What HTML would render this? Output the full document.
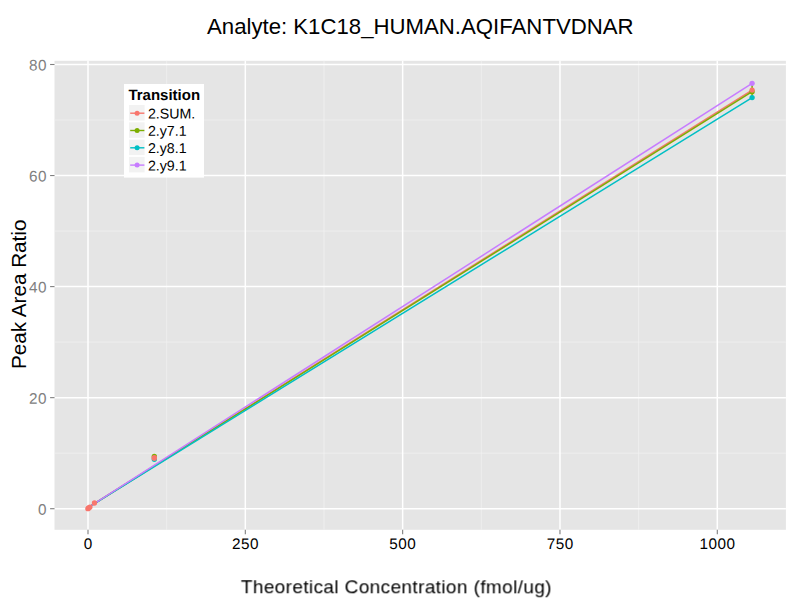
<!DOCTYPE html>
<html><head><meta charset="utf-8"><title>Analyte: K1C18_HUMAN.AQIFANTVDNAR</title>
<style>html,body{margin:0;padding:0;background:#fff;}body{width:800px;height:600px;overflow:hidden;font-family:"Liberation Sans",sans-serif;}svg{display:block;}text{font-family:"Liberation Sans",sans-serif;}</style></head><body>
<svg width="800" height="600" viewBox="0 0 800 600">
<rect x="0" y="0" width="800" height="600" fill="#ffffff"/>
<rect x="54.5" y="60.8" width="731.40" height="469.00" fill="#e5e5e5"/>
<g stroke="#f2f2f2" stroke-width="0.7" fill="none">
<line x1="54.5" x2="785.9" y1="453.17" y2="453.17"/>
<line x1="54.5" x2="785.9" y1="342.12" y2="342.12"/>
<line x1="54.5" x2="785.9" y1="231.07" y2="231.07"/>
<line x1="54.5" x2="785.9" y1="120.02" y2="120.02"/>
<line y1="60.8" y2="529.8" x1="166.66" x2="166.66"/>
<line y1="60.8" y2="529.8" x1="323.99" x2="323.99"/>
<line y1="60.8" y2="529.8" x1="481.31" x2="481.31"/>
<line y1="60.8" y2="529.8" x1="638.64" x2="638.64"/>
</g>
<g stroke="#ffffff" stroke-width="1.5" fill="none">
<line x1="54.5" x2="785.9" y1="508.70" y2="508.70"/>
<line x1="54.5" x2="785.9" y1="397.65" y2="397.65"/>
<line x1="54.5" x2="785.9" y1="286.60" y2="286.60"/>
<line x1="54.5" x2="785.9" y1="175.55" y2="175.55"/>
<line x1="54.5" x2="785.9" y1="64.50" y2="64.50"/>
<line y1="60.8" y2="529.8" x1="88.00" x2="88.00"/>
<line y1="60.8" y2="529.8" x1="245.32" x2="245.32"/>
<line y1="60.8" y2="529.8" x1="402.65" x2="402.65"/>
<line y1="60.8" y2="529.8" x1="559.97" x2="559.97"/>
<line y1="60.8" y2="529.8" x1="717.30" x2="717.30"/>
</g>
<g stroke="#7f7f7f" stroke-width="1.1" fill="none">
<line x1="50.10" x2="54.5" y1="508.70" y2="508.70"/>
<line x1="50.10" x2="54.5" y1="397.65" y2="397.65"/>
<line x1="50.10" x2="54.5" y1="286.60" y2="286.60"/>
<line x1="50.10" x2="54.5" y1="175.55" y2="175.55"/>
<line x1="50.10" x2="54.5" y1="64.50" y2="64.50"/>
<line y1="529.8" y2="534.20" x1="88.00" x2="88.00"/>
<line y1="529.8" y2="534.20" x1="245.32" x2="245.32"/>
<line y1="529.8" y2="534.20" x1="402.65" x2="402.65"/>
<line y1="529.8" y2="534.20" x1="559.97" x2="559.97"/>
<line y1="529.8" y2="534.20" x1="717.30" x2="717.30"/>
</g>
<g font-size="15.3" fill="#808080" text-anchor="end" letter-spacing="0.5">
<text transform="translate(47.1,514.70) rotate(0.03)">0</text>
<text transform="translate(47.1,403.65) rotate(0.03)">20</text>
<text transform="translate(47.1,292.60) rotate(0.03)">40</text>
<text transform="translate(47.1,181.55) rotate(0.03)">60</text>
<text transform="translate(47.1,70.50) rotate(0.03)">80</text>
</g>
<g font-size="15.3" fill="#000000" text-anchor="middle" letter-spacing="0.5">
<text transform="translate(88.20,549.1) rotate(0.03)">0</text>
<text transform="translate(245.52,549.1) rotate(0.03)">250</text>
<text transform="translate(402.85,549.1) rotate(0.03)">500</text>
<text transform="translate(560.17,549.1) rotate(0.03)">750</text>
<text transform="translate(717.50,549.1) rotate(0.03)">1000</text>
</g>
<g fill="none" stroke-width="1.5" stroke-linecap="butt">
<line x1="752.1" x2="752.1" y1="84" y2="96.5" stroke="#7CAE00"/>
<line x1="88.4" y1="507.3" x2="752.1" y2="90.1" stroke="#F8766D"/>
<line x1="88.4" y1="507.3" x2="752.1" y2="91.7" stroke="#7CAE00"/>
<line x1="88.4" y1="507.3" x2="752.1" y2="97.6" stroke="#00BFC4"/>
<line x1="88.4" y1="507.3" x2="752.1" y2="83.3" stroke="#C77CFF"/>
</g>
<circle cx="154.3" cy="459.25" r="2.65" fill="#00BFC4"/>
<circle cx="154.3" cy="456.45" r="2.65" fill="#7CAE00"/>
<circle cx="154.3" cy="457.55" r="2.65" fill="#F8766D"/>
<circle cx="154.3" cy="458.25" r="2.65" fill="#F8766D"/>
<circle cx="94.45" cy="503.0" r="2.65" fill="#F8766D"/>
<circle cx="87.9" cy="508.7" r="2.65" fill="#F8766D"/>
<circle cx="88.5" cy="508.2" r="2.65" fill="#F8766D"/>
<circle cx="89.2" cy="507.6" r="2.65" fill="#F8766D"/>
<circle cx="89.9" cy="507.1" r="2.65" fill="#F8766D"/>
<circle cx="752.1" cy="97.6" r="2.65" fill="#00BFC4"/>
<circle cx="752.1" cy="91.7" r="2.65" fill="#7CAE00"/>
<circle cx="752.1" cy="83.3" r="2.65" fill="#C77CFF"/>
<circle cx="752.1" cy="90.1" r="2.65" fill="#F8766D"/>
<rect x="124" y="84" width="80" height="93.6" fill="#ffffff"/>
<text transform="translate(128.4,100) rotate(0.03)" font-size="15" font-weight="bold" fill="#000">Transition</text>
<rect x="129" y="105.00" width="15.6" height="15.5" fill="#f2f2f2"/>
<line x1="130.2" x2="144.4" y1="113.20" y2="113.20" stroke="#F8766D" stroke-width="1.4"/>
<circle cx="137.1" cy="113.20" r="2.5" fill="#F8766D"/>
<text transform="translate(147.9,118.50) rotate(0.03)" font-size="14.2" fill="#000">2.SUM.</text>
<rect x="129" y="122.30" width="15.6" height="15.5" fill="#f2f2f2"/>
<line x1="130.2" x2="144.4" y1="130.50" y2="130.50" stroke="#7CAE00" stroke-width="1.4"/>
<circle cx="137.1" cy="130.50" r="2.5" fill="#7CAE00"/>
<text transform="translate(147.9,135.80) rotate(0.03)" font-size="14.2" fill="#000">2.y7.1</text>
<rect x="129" y="139.60" width="15.6" height="15.5" fill="#f2f2f2"/>
<line x1="130.2" x2="144.4" y1="147.80" y2="147.80" stroke="#00BFC4" stroke-width="1.4"/>
<circle cx="137.1" cy="147.80" r="2.5" fill="#00BFC4"/>
<text transform="translate(147.9,153.10) rotate(0.03)" font-size="14.2" fill="#000">2.y8.1</text>
<rect x="129" y="156.90" width="15.6" height="15.5" fill="#f2f2f2"/>
<line x1="130.2" x2="144.4" y1="165.10" y2="165.10" stroke="#C77CFF" stroke-width="1.4"/>
<circle cx="137.1" cy="165.10" r="2.5" fill="#C77CFF"/>
<text transform="translate(147.9,170.40) rotate(0.03)" font-size="14.2" fill="#000">2.y9.1</text>
<text transform="translate(420.3,34.1) rotate(0.02)" font-size="22.2" text-anchor="middle" fill="#000">Analyte: K1C18_HUMAN.AQIFANTVDNAR</text>
<text style="will-change:transform" transform="translate(396.4,593.3) rotate(0.02)" font-size="19.0" letter-spacing="0.38" text-anchor="middle" fill="#000">Theoretical Concentration (fmol/ug)</text>
<text transform="translate(26,294.3) rotate(-90)" font-size="20.7" text-anchor="middle" fill="#000">Peak Area Ratio</text>
</svg></body></html>
